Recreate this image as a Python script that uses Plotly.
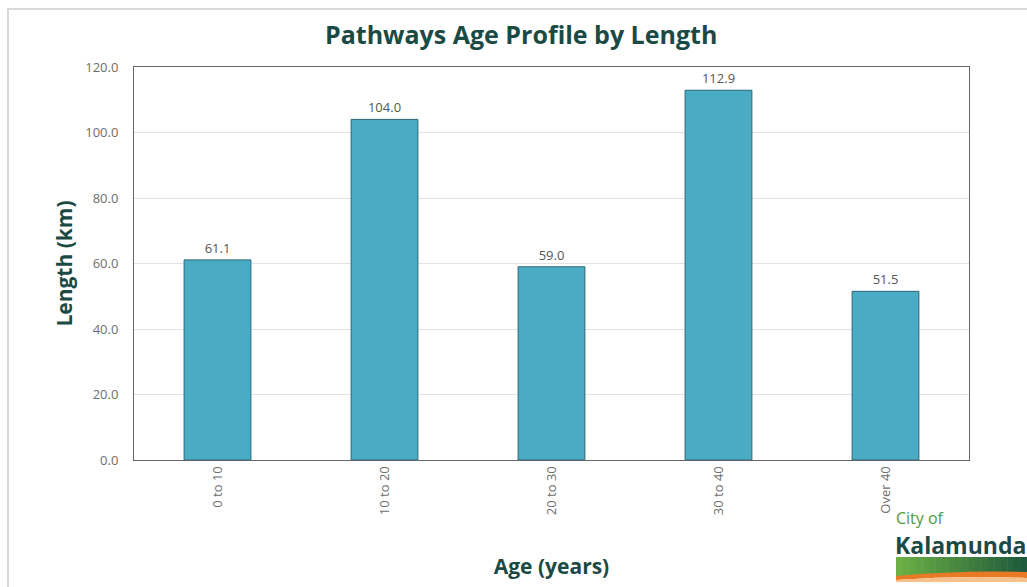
import plotly.graph_objects as go

categories = ["0 to 10", "10 to 20", "20 to 30", "30 to 40", "Over 40"]
lengths_km = [61.1, 104.0, 59.0, 112.9, 51.5]
y_ticks = [0, 20, 40, 60, 80, 100, 120]

W, H = 1027, 587
L, R, T, B = 134, 969, 67, 460

def px(x):
    return (x - L) / (R - L)

def py(y):
    return (B - y) / (B - T)

DARK = "#1b4a45"
GRAY = "#6e6e6e"

fig = go.Figure(go.Bar(
    x=categories, y=lengths_km,
    marker=dict(color="#4aabc5", line=dict(color="#2b6676", width=1)),
    text=[f"{v:.1f}" for v in lengths_km], textposition="outside",
    textfont=dict(family="Open Sans", size=13, color="#555555"),
    cliponaxis=False,
))

shapes = [
    dict(type="rect", xref="paper", yref="paper", x0=px(8), x1=px(1040), y0=py(9), y1=py(600),
         line=dict(color="#d9d9d9", width=2), layer="below"),
]
x_start, x_end = 896, 1027
n = 20
c0 = (0x6c, 0xb0, 0x45)
c1 = (0x1f, 0x5a, 0x3c)
for i in range(n):
    a = x_start + (x_end - x_start) * i / n
    b = x_start + (x_end - x_start) * (i + 1) / n + 0.5
    t = i / (n - 1)
    col = "rgb({},{},{})".format(*[int(c0[k] + (c1[k] - c0[k]) * t) for k in range(3)])
    shapes.append(dict(type="rect", xref="paper", yref="paper", x0=px(a), x1=px(b),
                       y0=py(576), y1=py(557), line=dict(width=0), fillcolor=col))
shapes.append(dict(type="path", xref="paper", yref="paper",
                   path=f"M {px(896)},{py(576)} Q {px(960)},{py(570)} {px(1027)},{py(572)} L {px(1027)},{py(578)} Q {px(960)},{py(575)} {px(896)},{py(580)} Z",
                   fillcolor="#e87a25", line=dict(width=0)))
shapes.append(dict(type="path", xref="paper", yref="paper",
                   path=f"M {px(896)},{py(580)} Q {px(960)},{py(575)} {px(1027)},{py(578)} L {px(1027)},{py(582)} L {px(896)},{py(582)} Z",
                   fillcolor="#f6c08a", line=dict(width=0)))

annotations = [
    dict(text="<b>Pathways Age Profile by Length</b>", xref="paper", yref="paper",
         x=px(521), y=py(34), showarrow=False, xanchor="center", yanchor="middle",
         font=dict(family="Open Sans", size=25, color=DARK)),
    dict(text="City of", xref="paper", yref="paper", x=px(894), y=py(531),
         showarrow=False, xanchor="left", yanchor="bottom",
         font=dict(family="Open Sans", size=16, color="#4f9a3b")),
    dict(text="<b>Kalamunda</b>", xref="paper", yref="paper", x=px(893), y=py(527),
         showarrow=False, xanchor="left", yanchor="top",
         font=dict(family="Open Sans", size=23, color=DARK)),
]

fig.update_layout(
    width=W, height=H,
    margin=dict(l=L, r=W - R, t=T, b=H - B),
    paper_bgcolor="white", plot_bgcolor="white",
    showlegend=False, bargap=0.6,
    font=dict(family="Open Sans", color=GRAY, size=13),
    shapes=shapes, annotations=annotations,
    xaxis=dict(
        tickangle=-90, tickfont=dict(family="Open Sans", size=13, color=GRAY),
        showline=True, linecolor="#666666", linewidth=1, mirror=True,
        ticks="", showgrid=False,
        title=dict(text="<b>Age (years)</b>", font=dict(family="Open Sans", size=21, color=DARK), standoff=45),
    ),
    yaxis=dict(
        range=[0, 120], tickvals=y_ticks, ticktext=[f"{v:.1f}" for v in y_ticks],
        tickfont=dict(family="Open Sans", size=13, color=GRAY),
        showline=True, linecolor="#666666", linewidth=1, mirror=True,
        gridcolor="#e3e3e3", gridwidth=1, zeroline=False, ticks="",
        ticklabelstandoff=12,
        title=dict(text="<b>Length (km)</b>", font=dict(family="Open Sans", size=21, color=DARK), standoff=6),
    ),
)

fig.write_html("out.html")
